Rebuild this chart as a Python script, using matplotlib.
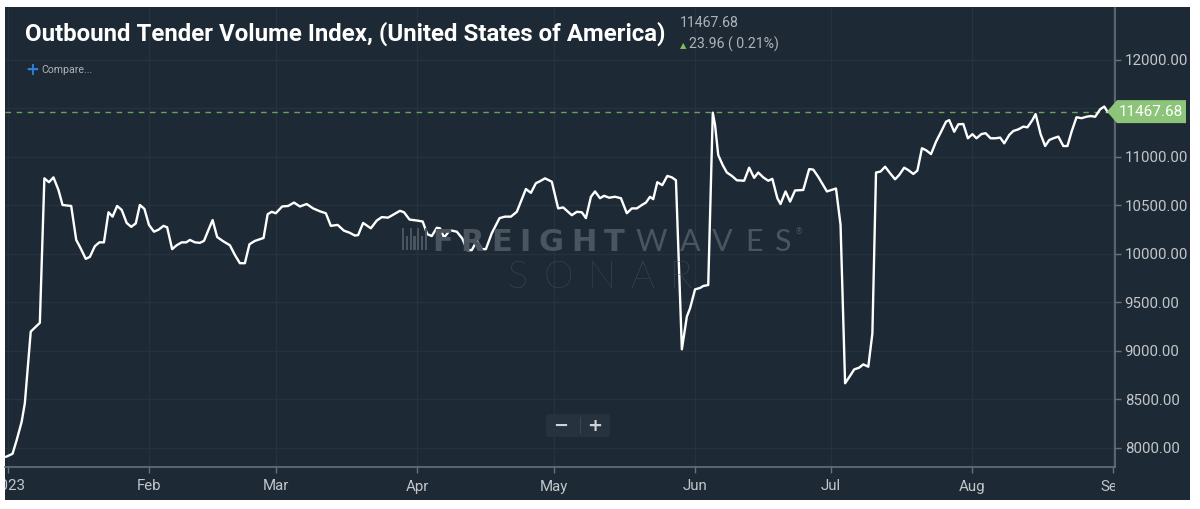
"""Outbound Tender Volume Index (USA), 2023 – FreightWaves SONAR style chart."""

from datetime import datetime

import matplotlib

matplotlib.use("Agg")

import matplotlib.dates as mdates
import matplotlib.pyplot as plt
import matplotlib.ticker as mticker
from matplotlib.patches import FancyBboxPatch, Polygon, Rectangle
from matplotlib.transforms import Affine2D, Bbox, TransformedBbox, blended_transform_factory

# -- data --------------------------------------------------------------------
START = datetime(2023, 1, 1)
# days since 1 Jan 2023
DAY = [
    -0.4, 1.0, 1.9, 3.0, 3.7, 5.0, 7.0, 8.0, 9.0, 10.0, 11.1, 12.0, 13.9, 15.0, 15.8,
    17.1, 18.0, 19.1, 20.1, 21.1, 22.1, 23.0, 24.0, 25.0, 26.1, 27.1, 28.1, 29.0, 30.0,
    31.0, 32.1, 33.1, 34.2, 35.0, 36.1, 37.1, 38.2, 39.2, 40.0, 41.1, 42.2, 43.1, 44.1,
    45.0, 46.0, 47.2, 48.8, 49.9, 51.0, 52.1, 53.1, 54.3, 56.2, 57.1, 58.0, 58.9, 60.3,
    61.6, 62.9, 64.2, 65.7, 67.1, 68.6, 69.9, 71.0, 72.5, 73.9, 75.1, 76.3, 77.0, 78.1,
    79.8, 81.1, 82.2, 83.6, 84.9, 86.2, 87.1, 88.3, 89.9, 91.2, 92.2, 93.2, 94.3, 95.0,
    95.9, 97.2, 98.7, 99.9, 101.0, 102.0, 103.1, 104.2, 105.1, 106.4, 108.1, 109.3,
    110.6, 111.9, 113.9, 115.0, 116.1, 117.0, 118.1, 119.6, 121.0, 122.1, 124.0, 125.1,
    126.2, 127.1, 128.2, 129.1, 130.2, 131.1, 132.2, 133.5, 134.8, 136.1, 137.2, 138.3,
    139.4, 140.3, 141.2, 141.9, 142.8, 143.9, 145.0, 146.0, 146.9, 148.2, 149.3, 150.0,
    151.1, 152.2, 152.9, 154.0, 155.0, 155.5, 156.2, 157.2, 158.1, 159.2, 160.3, 161.9,
    163.0, 164.1, 165.0, 166.1, 167.2, 168.1, 169.2, 169.9, 171.0, 172.0, 173.1, 174.9,
    176.2, 177.1, 178.2, 180.1, 182.1, 183.1, 184.1, 185.0, 186.1, 187.2, 188.1, 189.2,
    190.1, 190.9, 191.9, 192.9, 194.0, 195.1, 196.0, 197.1, 198.0, 199.1, 200.0, 201.0,
    201.9, 203.0, 204.1, 205.1, 206.3, 207.0, 208.1, 209.0, 210.1, 211.1, 212.1, 213.0,
    214.1, 215.0, 216.1, 217.2, 218.2, 219.1, 220.2, 221.1, 222.2, 223.3, 224.2, 225.3,
    226.0, 227.1, 228.1, 229.0, 229.9, 231.0, 232.1, 233.0, 233.9, 235.0, 236.1, 237.2,
    238.1, 239.1, 240.2, 241.1, 241.8,
]
VALUE = [
    7910, 7940, 8080, 8270, 8460, 9200, 9290, 10780, 10740, 10790, 10660, 10505, 10495,
    10145, 10075, 9950, 9970, 10080, 10120, 10120, 10430, 10385, 10495, 10455, 10320,
    10280, 10315, 10505, 10465, 10300, 10230, 10250, 10290, 10275, 10050, 10090, 10120,
    10120, 10145, 10120, 10115, 10135, 10250, 10350, 10175, 10135, 10090, 9990, 9905,
    9905, 10100, 10135, 10165, 10410, 10435, 10420, 10490, 10495, 10530, 10490, 10515,
    10470, 10440, 10420, 10290, 10300, 10240, 10220, 10190, 10195, 10320, 10265, 10345,
    10380, 10375, 10410, 10445, 10430, 10355, 10345, 10335, 10205, 10185, 10270, 10265,
    10170, 10245, 10230, 10160, 10040, 10040, 10135, 10050, 10050, 10215, 10370, 10385,
    10385, 10435, 10670, 10630, 10730, 10750, 10780, 10745, 10470, 10480, 10400, 10435,
    10430, 10370, 10590, 10645, 10575, 10600, 10580, 10590, 10575, 10420, 10470, 10470,
    10505, 10530, 10590, 10565, 10740, 10710, 10805, 10790, 10760, 9017, 9355, 9440,
    9635, 9650, 9670, 9680, 11457, 11330, 11020, 10915, 10840, 10805, 10760, 10755,
    10890, 10785, 10840, 10790, 10755, 10775, 10575, 10515, 10645, 10540, 10655, 10660,
    10875, 10870, 10795, 10645, 10675, 10300, 8667, 8730, 8810, 8828, 8862, 8838, 9180,
    10840, 10850, 10900, 10832, 10770, 10815, 10890, 10865, 10825, 10860, 11090, 11070,
    11030, 11158, 11250, 11364, 11380, 11260, 11337, 11340, 11193, 11235, 11193, 11237,
    11245, 11193, 11193, 11200, 11141, 11227, 11268, 11285, 11313, 11306, 11381, 11443,
    11235, 11113, 11175, 11193, 11210, 11113, 11113, 11260, 11410, 11400, 11415, 11422,
    11415, 11492, 11520, 11467.68,
]
LAST = 11467.68
CHANGE = 23.96
CHANGE_PCT = 0.21
Y_TICKS = [8000, 8500, 9000, 9500, 10000, 10500, 11000, 11500, 12000]
TITLE = "Outbound Tender Volume Index, (United States of America)"

# -- style --------------------------------------------------------------------
PANEL = "#1d2934"
GRIDC = "#26333e"
AXISC = "#68717a"
TICKC = "#c2c6ca"
MUTED = "#aeb3b8"
GREEN = "#8cc57a"
DASH = "#6e9f5c"
WATERMARK = "#4a5560"
W, H = 1200, 509

fig = plt.figure(figsize=(W / 100, H / 100), dpi=100, facecolor="white")
# top-left pixel coordinates -> display
PIX = Affine2D().scale(1 / W, -1 / H).translate(0, 1) + fig.transFigure

fig.add_artist(Rectangle((5, 7), 1185, 493, transform=PIX, facecolor=PANEL,
                         edgecolor="none", zorder=0))

ax = fig.add_axes([5 / W, (H - 467) / H, 1110 / W, (467 - 8) / H])
ax.set_facecolor(PANEL)
ax.set_zorder(1)

x0 = mdates.date2num(START)
xs = [x0 + d for d in DAY]
ax.plot(xs, VALUE, color="white", linewidth=1.7, solid_joinstyle="round", zorder=4)
ax.axhline(LAST, color=DASH, linestyle=(0, (4, 4)), linewidth=1.0, zorder=3)

ax.set_xlim(x0 - 0.66, x0 + 243.46)
ax.set_ylim(7804, 12536)

for side in ("left", "top"):
    ax.spines[side].set_visible(False)
for side in ("right", "bottom"):
    ax.spines[side].set_color(AXISC)
    ax.spines[side].set_linewidth(1.2)

ax.yaxis.tick_right()
ax.set_yticks(Y_TICKS)
# the 11500 label sits under the last-value tag in the widget
ax.yaxis.set_major_formatter(mticker.FuncFormatter(
    lambda v, _: "" if abs(v - LAST) < 250 else f"{v:.2f}"))
ax.xaxis.set_major_locator(mdates.MonthLocator())
ax.xaxis.set_major_formatter(mticker.FuncFormatter(
    lambda v, _: mdates.num2date(v).strftime("%Y" if mdates.num2date(v).month == 1 else "%b")))
ax.tick_params(axis="both", colors=AXISC, labelcolor=TICKC, length=4, width=1,
               labelsize=10.8, labelfontfamily="Roboto")
ax.tick_params(axis="y", pad=3)
ax.tick_params(axis="x", pad=5)
ax.grid(color=GRIDC, linewidth=0.9)
ax.set_axisbelow(True)

# tick labels are cut by the plot frame, as in the web widget
clip = TransformedBbox(Bbox([[0, -0.3], [1, 1]]), ax.transAxes)
for tick in ax.xaxis.get_major_ticks():
    tick.label1.set_clip_box(clip)
    tick.label1.set_clip_on(True)

# -- last value tag -----------------------------------------------------------
blend = blended_transform_factory(PIX, ax.transData)
half = 11.5 * (12536 - 7804) / (467 - 8)
tag = Polygon([(1107, LAST), (1117, LAST + half), (1186, LAST + half),
               (1186, LAST - half), (1117, LAST - half)], closed=True,
              facecolor=GREEN, edgecolor="none", zorder=6, clip_on=False)
tag.set_transform(blend)
fig.add_artist(tag)
fig.text(1151, LAST, f"{LAST:.2f}", transform=blend, color="white", fontsize=11,
         family="Roboto", ha="center", va="center", zorder=7)

# -- header ---------------------------------------------------------------------
title = fig.text(25, 41, TITLE, transform=PIX, color="white", fontsize=19,
                 fontweight="bold", family=["Liberation Sans Narrow", "Roboto"],
                 ha="left", va="baseline")
renderer = fig.canvas.get_renderer()
width = title.get_window_extent(renderer).width
title.set_fontsize(19 * 643 / width)

fig.text(680, 27, f"{LAST:.2f}", transform=PIX, color=MUTED, fontsize=10.2,
         family="Roboto", ha="left", va="baseline")
fig.text(680, 48, "\u25b2", transform=PIX, color="#7cc04f", fontsize=6,
         family="DejaVu Sans", ha="left", va="baseline")
fig.text(689, 49, f"{CHANGE:.2f} ( {CHANGE_PCT:.2f}%)", transform=PIX, color=MUTED,
         fontsize=10.2, family="Roboto", ha="left", va="baseline")
fig.text(25, 75, "+", transform=PIX, color="#2f7fd6", fontsize=12, fontweight="bold",
         family="DejaVu Sans", ha="left", va="baseline")
fig.text(41, 73, "Compare...", transform=PIX, color=MUTED, fontsize=7.6,
         family="Roboto", ha="left", va="baseline")


# -- watermark ----------------------------------------------------------------
def tracked(x, y, text, gap, **kw):
    """Draw text one glyph at a time with extra spacing (pixel coords)."""
    for ch in text:
        t = fig.text(x, y, ch, transform=PIX, ha="left", va="baseline", zorder=2, **kw)
        x += t.get_window_extent(renderer).width + gap
    return x


for i in range(7):
    h = 22 if i % 2 == 0 else 14
    fig.add_artist(Rectangle((402 + i * 3.8, 250 - h), 2.2, h, transform=PIX,
                             facecolor=WATERMARK, edgecolor="none", zorder=2))
end = tracked(432, 251, "FREIGHT", 7.5, color=WATERMARK, fontsize=22, fontweight="bold",
              family="DejaVu Sans")
end = tracked(end + 4, 251, "WAVES", 12, color=WATERMARK, fontsize=22,
              fontweight="normal", family="Lato")
fig.text(end - 8, 234, "\u00ae", transform=PIX, color=WATERMARK, fontsize=6,
         family="DejaVu Sans", ha="left", va="baseline", zorder=2)
tracked(508, 288, "SONAR", 15, color=WATERMARK, fontsize=27, fontweight="light",
        family="Lato")

# -- zoom control ---------------------------------------------------------------
fig.add_artist(FancyBboxPatch((546, 414), 64, 23, transform=PIX,
                              boxstyle="round,pad=0,rounding_size=3",
                              facecolor="#26323d", edgecolor="none", zorder=5))
fig.add_artist(Rectangle((579.5, 417), 1, 17, transform=PIX, facecolor="#3a4651",
                         edgecolor="none", zorder=6))
fig.text(561, 426, "\u2212", transform=PIX, color="#d0d3d6", fontsize=13,
         fontweight="bold", family="DejaVu Sans", ha="center", va="center", zorder=7)
fig.text(595, 426, "+", transform=PIX, color="#d0d3d6", fontsize=13,
         fontweight="bold", family="DejaVu Sans", ha="center", va="center", zorder=7)

fig.savefig("out.png", dpi=100, facecolor="white")
